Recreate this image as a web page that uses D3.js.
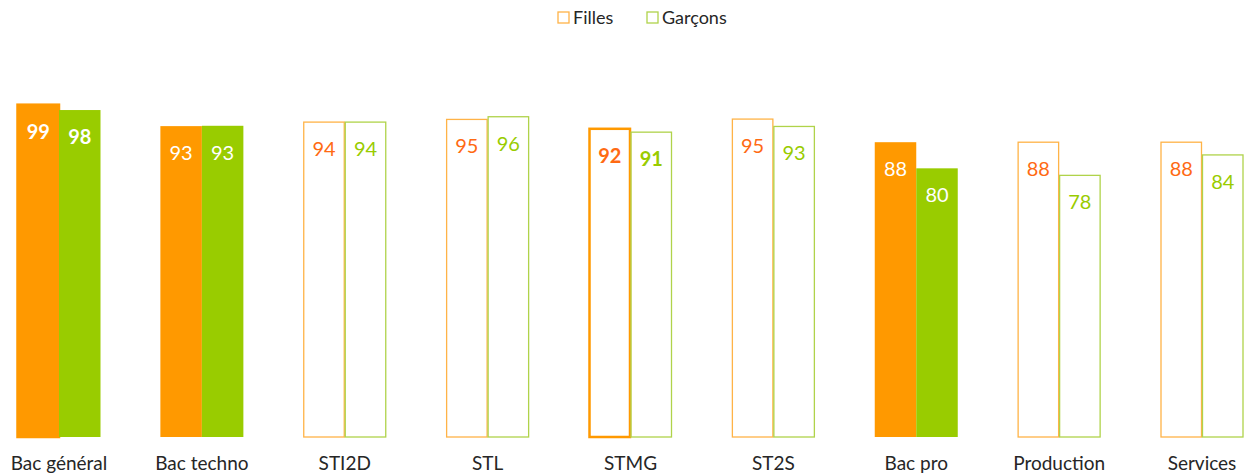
<!DOCTYPE html>
<meta charset="utf-8">
<script src="https://cdn.jsdelivr.net/npm/d3@7"></script>
<style>
    body {margin: 0; background: #fff;}
    svg {font-family: "Lato", "Open Sans", sans-serif;}
    .cat-label {fill: #262626; font-size: 19px;}
    .legend text {fill: #262626; font-size: 18px;}
</style>
<div id="chart"></div>
<script>

    let categories = ["Bac général", "Bac techno", "STI2D", "STL", "STMG", "ST2S", "Bac pro", "Production", "Services"];
    let filles = [99.2, 92.8, 94.0, 94.8, 92.0, 94.9, 88.0, 88.0, 88.0];
    let garcons = [97.6, 92.9, 94.0, 95.6, 91.0, 92.7, 80.2, 78.1, 84.2];
    let series = ["Filles", "Garçons"];
    // which categories are drawn as solid bars, which with bold labels
    let filled = ["Bac général", "Bac techno", "Bac pro"];
    let bold = ["Bac général", "STMG"];

    let width = 1246, height = 475;

    let x = d3.scalePoint().domain(categories).range([59, 1202]);
    let xs = d3.scaleBand().domain(series).range([-41.5, 41.5]).padding(0);
    let y = d3.scaleLinear().domain([0, 100]).range([437, 102]);

    let fillColor = {"Filles": "#ff9900", "Garçons": "#99cc00"};
    let strokeColor = {"Filles": "#ffb347", "Garçons": "#b0d34a"};
    let textColor = {"Filles": "#ff6a13", "Garçons": "#99cc00"};

    let rows = [];
    categories.forEach(function(c, i) {
        rows.push({cat: c, serie: "Filles", value: filles[i]});
        rows.push({cat: c, serie: "Garçons", value: garcons[i]});
    });

    let svg = d3.select("#chart").append("svg")
        .attr("width", width)
        .attr("height", height);

    let bars = svg.selectAll("g.bar")
        .data(rows)
        .enter().append("g")
        .attr("class", "bar");

    bars.append("rect")
        .attr("x", d => x(d.cat) + xs(d.serie) + (filled.includes(d.cat) ? 0 : 0.5))
        .attr("y", d => y(d.value))
        .attr("width", d => xs.bandwidth() - (filled.includes(d.cat) ? 0 : 1))
        .attr("height", d => y(0) - y(d.value))
        .style("fill", d => filled.includes(d.cat) ? fillColor[d.serie] : "none")
        .style("stroke", function(d) {
            if (d.cat == "STMG" && d.serie == "Filles") return "#ff9900";
            if (d.cat == "Bac général" && d.serie == "Filles") return "#ff9900";
            return filled.includes(d.cat) ? "none" : strokeColor[d.serie];
        })
        .style("stroke-width", d => (bold.includes(d.cat) && d.serie == "Filles") ? 2.5 : 1.3);

    bars.append("text")
        .attr("x", d => x(d.cat) + xs(d.serie) + xs.bandwidth() / 2)
        .attr("y", d => y(d.value) + 34)
        .attr("text-anchor", "middle")
        .style("font-size", "20px")
        .style("font-weight", d => bold.includes(d.cat) ? "bold" : "normal")
        .style("fill", d => filled.includes(d.cat) ? "#ffffff" : textColor[d.serie])
        .text(d => Math.round(d.value));

    svg.selectAll("text.cat-label")
        .data(categories)
        .enter().append("text")
        .attr("class", "cat-label")
        .attr("x", d => x(d))
        .attr("y", 470)
        .attr("text-anchor", "middle")
        .text(d => d);

    // legend
    let legend = svg.append("g").attr("class", "legend");
    let legendX = d3.scaleOrdinal().domain(series).range([558, 647]);

    legend.selectAll("rect")
        .data(series)
        .enter().append("rect")
        .attr("x", d => legendX(d))
        .attr("y", 12)
        .attr("width", 11)
        .attr("height", 11)
        .style("fill", "none")
        .style("stroke", d => strokeColor[d])
        .style("stroke-width", 1.3);

    legend.selectAll("text")
        .data(series)
        .enter().append("text")
        .attr("x", d => legendX(d) + 15)
        .attr("y", 24)
        .text(d => d);

</script>
